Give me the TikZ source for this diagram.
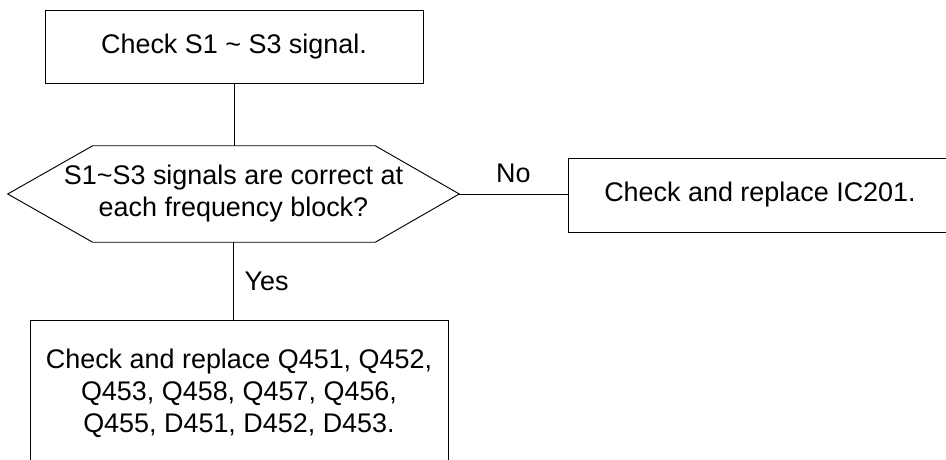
\documentclass[tikz,border=0pt]{standalone}
\usepackage{fontspec}
\setmainfont{Liberation Sans}
\usetikzlibrary{calc, positioning}

\begin{document}
\begin{tikzpicture}[x=0.75pt, y=-0.75pt,
    every node/.style={font=\fontsize{20.2}{24}\selectfont, align=center},
    box/.style={draw, line width=0.7pt, rectangle, inner sep=0pt},
    hexbox/.style={rectangle, minimum width=338.25pt, minimum height=72pt, inner sep=0pt},
    lbl/.style={inner sep=0pt}]
  \useasboundingbox (0,0) rectangle (946,460);
  % boxes
  \node[box, minimum width=283.5pt, minimum height=54.75pt] (check) at (234,46.5)
    {Check S1 \textasciitilde\ S3 signal.};
  \node[hexbox] (sig) at (233.5,194)
    {S1\textasciitilde S3 signals are correct at\\each frequency block?};
  \draw[line width=0.7pt] (sig.west) -- ($(sig.north west)+(85,0)$) -- ($(sig.north east)+(-84,0)$)
    -- (sig.east) -- ($(sig.south east)+(-84,0)$) -- ($(sig.south west)+(85,0)$) -- cycle;
  \node[box, minimum width=288pt, minimum height=55.5pt] (ic) at (760,195)
    {Check and replace IC201.};
  \node[box, minimum width=313.5pt, minimum height=109.5pt] (tr) at (239,393)
    {Check and replace Q451, Q452,\\Q453, Q458, Q457, Q456,\\Q455, D451, D452, D453.};
  % connectors
  \draw[line width=0.7pt] (check.south) -- (check.south |- sig.north);
  \draw[line width=0.7pt] (sig.east) -- node[lbl, above=8pt] (no) {No} (sig.east -| ic.west);
  \draw[line width=0.7pt] (sig.south) -- node[lbl, right=8pt] (yes) {Yes} (sig.south |- tr.north);
\end{tikzpicture}
\end{document}
